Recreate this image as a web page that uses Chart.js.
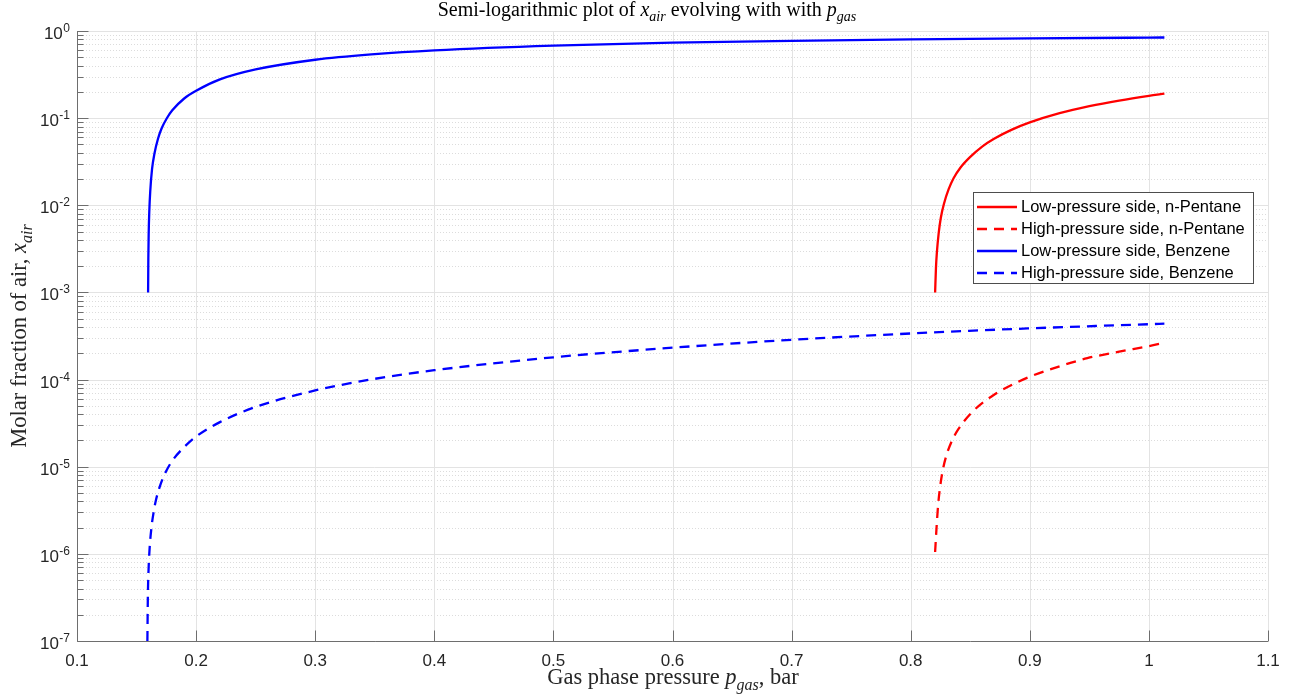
<!DOCTYPE html>
<html>
<head>
<meta charset="utf-8">
<script src="https://cdn.jsdelivr.net/npm/chart.js@4.4.1/dist/chart.umd.min.js"></script>
<style>
html, body { margin: 0; padding: 0; background: #fff; }
#wrap { width: 1296px; height: 698px; }
</style>
</head>
<body>
<div id="wrap"><canvas id="chart" width="1296" height="698"></canvas></div>
<script>
"use strict"

// Values (pressure in bar, molar fraction)
const benzeneLowP = [0.1597, 0.1599, 0.1602, 0.1607, 0.1615, 0.163, 0.165, 0.168, 0.171, 0.1753, 0.18, 0.19, 0.2, 0.22, 0.25, 0.3, 0.35, 0.4, 0.5, 0.6, 0.7, 0.8, 0.9, 1.0, 1.013];
const benzeneLowX = [0.001, 0.0025, 0.0048, 0.0085, 0.0145, 0.026, 0.039, 0.058, 0.076, 0.099, 0.123, 0.168, 0.206, 0.278, 0.362, 0.468, 0.543, 0.600, 0.680, 0.734, 0.772, 0.800, 0.822, 0.840, 0.842];

const benzeneHighP = [0.1591, 0.1595, 0.16, 0.1608, 0.1625, 0.1645, 0.1664, 0.17, 0.1748, 0.18, 0.19, 0.2, 0.22, 0.25, 0.3, 0.35, 0.4, 0.5, 0.6, 0.7, 0.8, 0.9, 1.0, 1.013];
const benzeneHighX = [1.0e-7, 3.3e-7, 6.1e-7, 1.06e-6, 2.0e-6, 3.1e-6, 4.2e-6, 6.2e-6, 8.85e-6, 1.17e-5, 1.68e-5, 2.22e-5, 3.25e-5, 4.85e-5, 7.5e-5, 1.02e-4, 1.28e-4, 1.8e-4, 2.32e-4, 2.86e-4, 3.38e-4, 3.87e-4, 4.32e-4, 4.38e-4];

const pentaneLowP = [0.8205, 0.8212, 0.822, 0.8235, 0.8253, 0.828, 0.8318, 0.836, 0.842, 0.85, 0.86, 0.87, 0.885, 0.9, 0.925, 0.95, 0.975, 1.0, 1.013];
const pentaneLowX = [0.001, 0.0019, 0.0029, 0.0048, 0.0072, 0.0105, 0.0152, 0.0204, 0.0273, 0.0359, 0.0472, 0.058, 0.0738, 0.0893, 0.114, 0.1372, 0.1593, 0.1805, 0.191];

const pentaneHighP = [0.8205, 0.8217, 0.823, 0.8245, 0.8267, 0.83, 0.834, 0.84, 0.8528, 0.87, 0.89, 0.9, 0.925, 0.9483, 0.975, 1.0, 1.013];
const pentaneHighX = [1.05e-6, 2.0e-6, 3.6e-6, 5.6e-6, 8.8e-6, 1.35e-5, 1.9e-5, 2.7e-5, 4.4e-5, 6.7e-5, 9.4e-5, 1.08e-4, 1.42e-4, 1.76e-4, 2.09e-4, 2.42e-4, 2.64e-4];

const seriesLabels = ["Low-pressure side, n-Pentane", "High-pressure side, n-Pentane", "Low-pressure side, Benzene", "High-pressure side, Benzene"];

// Axis ticks
const xTicks = [0.1, 0.2, 0.3, 0.4, 0.5, 0.6, 0.7, 0.8, 0.9, 1.0, 1.1];
const xTickLabels = ["0.1", "0.2", "0.3", "0.4", "0.5", "0.6", "0.7", "0.8", "0.9", "1", "1.1"];
const yTickExps = [-7, -6, -5, -4, -3, -2, -1, 0];
const yMinorSteps = [2, 3, 4, 5, 6, 7, 8, 9];

const axisColor = "#6e6e6e";
const textColor = "#262626";
const sansFont = "'Liberation Sans', Arial, sans-serif";
const serifFont = "'Liberation Serif', 'Times New Roman', serif";

function toPoints(px, py) {
    return px.map((p, i) => ({ x: p, y: py[i] }));
}

function makeSet(label, color, dashed, px, py) {
    return {
        label: label,
        data: toPoints(px, py),
        borderColor: color,
        borderWidth: 2.3,
        borderDash: dashed ? [10, 7] : [],
        pointRadius: 0,
        fill: false,
        cubicInterpolationMode: "monotone"
    };
}

// Text with italic parts and subscripts, like MATLAB's latex interpreter
function drawRich(ctx, parts, x, y, size) {
    const fontOf = s => s === "n" ? size + "px " + serifFont
        : s === "i" ? "italic " + size + "px " + serifFont
        : "italic " + Math.round(size * 0.7) + "px " + serifFont;
    let w = 0;
    parts.forEach(p => { ctx.font = fontOf(p[1]); w += ctx.measureText(p[0]).width; });
    let cx = x - w / 2;
    ctx.textAlign = "left";
    ctx.textBaseline = "alphabetic";
    parts.forEach(p => {
        ctx.font = fontOf(p[1]);
        ctx.fillText(p[0], cx, p[1] === "s" ? y + size * 0.25 : y);
        cx += ctx.measureText(p[0]).width;
    });
}

// Grid lines under the data
const gridPlugin = {
    id: "matlabGrid",
    beforeDatasetsDraw(chart) {
        const ctx = chart.ctx;
        const area = chart.chartArea;
        const xs = chart.scales.x;
        const ys = chart.scales.y;
        ctx.save();
        ctx.lineWidth = 1;

        // minor y grid, dotted
        ctx.strokeStyle = "#dcdcdc";
        ctx.setLineDash([1, 2]);
        yTickExps.forEach(e => {
            yMinorSteps.forEach(m => {
                const v = m * Math.pow(10, e);
                if (v >= 1) return;
                const y = Math.round(ys.getPixelForValue(v)) + 0.5;
                ctx.beginPath();
                ctx.moveTo(area.left, y);
                ctx.lineTo(area.right, y);
                ctx.stroke();
            });
        });

        // major grid, solid
        ctx.setLineDash([]);
        ctx.strokeStyle = "#e3e3e3";
        yTickExps.forEach(e => {
            const y = Math.round(ys.getPixelForValue(Math.pow(10, e))) + 0.5;
            ctx.beginPath();
            ctx.moveTo(area.left, y);
            ctx.lineTo(area.right, y);
            ctx.stroke();
        });
        xTicks.forEach(v => {
            const x = Math.round(xs.getPixelForValue(v)) + 0.5;
            ctx.beginPath();
            ctx.moveTo(x, area.top);
            ctx.lineTo(x, area.bottom);
            ctx.stroke();
        });
        ctx.restore();
    }
};

// Axes, inward ticks, y tick labels, titles and legend on top
const decorPlugin = {
    id: "matlabDecor",
    afterDatasetsDraw(chart) {
        const ctx = chart.ctx;
        const area = chart.chartArea;
        const xs = chart.scales.x;
        const ys = chart.scales.y;
        ctx.save();

        // axis lines
        ctx.strokeStyle = axisColor;
        ctx.lineWidth = 1;
        const left = Math.round(area.left) + 0.5;
        const bottom = Math.round(area.bottom) + 0.5;
        ctx.beginPath();
        ctx.moveTo(left, area.top);
        ctx.lineTo(left, bottom);
        ctx.lineTo(area.right, bottom);
        ctx.stroke();

        // x ticks
        xTicks.forEach(v => {
            const x = Math.round(xs.getPixelForValue(v)) + 0.5;
            ctx.beginPath();
            ctx.moveTo(x, bottom);
            ctx.lineTo(x, bottom - 11);
            ctx.stroke();
        });

        // y ticks, major and minor
        yTickExps.forEach(e => {
            const y = Math.round(ys.getPixelForValue(Math.pow(10, e))) + 0.5;
            ctx.beginPath();
            ctx.moveTo(left, y);
            ctx.lineTo(left + 11, y);
            ctx.stroke();
            yMinorSteps.forEach(m => {
                const v = m * Math.pow(10, e);
                if (v >= 1) return;
                const ym = Math.round(ys.getPixelForValue(v)) + 0.5;
                ctx.beginPath();
                ctx.moveTo(left, ym);
                ctx.lineTo(left + 6, ym);
                ctx.stroke();
            });
        });

        // y tick labels 10^n
        ctx.fillStyle = textColor;
        ctx.textBaseline = "alphabetic";
        yTickExps.forEach(e => {
            const y = ys.getPixelForValue(Math.pow(10, e));
            const expText = e === 0 ? "0" : "-" + Math.abs(e);
            ctx.font = "12px " + sansFont;
            const ew = ctx.measureText(expText).width;
            const right = area.left - 7;
            ctx.textAlign = "left";
            ctx.fillText(expText, right - ew, y + 1);
            ctx.font = "17px " + sansFont;
            ctx.textAlign = "right";
            ctx.fillText("10", right - ew - 0.5, y + 8);
        });

        // title and axis labels
        ctx.fillStyle = "#000";
        drawRich(ctx, [["Semi-logarithmic plot of ", "n"], ["x", "i"], ["air", "s"],
            [" evolving with with ", "n"], ["p", "i"], ["gas", "s"]], 647, 16, 20);
        ctx.fillStyle = textColor;
        drawRich(ctx, [["Gas phase pressure ", "n"], ["p", "i"], ["gas", "s"], [", bar", "n"]], 673, 684, 22.5);
        ctx.save();
        ctx.translate(26, (area.top + area.bottom) / 2);
        ctx.rotate(-Math.PI / 2);
        drawRich(ctx, [["Molar fraction of air, ", "n"], ["x", "i"], ["air", "s"]], 0, 0, 22.5);
        ctx.restore();

        // legend box
        const lx = 973.5, ly = 192.5, lw = 280, lh = 91;
        ctx.fillStyle = "#fff";
        ctx.fillRect(lx, ly, lw, lh);
        ctx.strokeStyle = "#4d4d4d";
        ctx.lineWidth = 1;
        ctx.strokeRect(lx, ly, lw, lh);
        chart.data.datasets.forEach((ds, i) => {
            const ry = 207 + i * 22;
            ctx.strokeStyle = ds.borderColor;
            ctx.lineWidth = 2.3;
            ctx.setLineDash(ds.borderDash);
            ctx.beginPath();
            ctx.moveTo(977, ry);
            ctx.lineTo(1017, ry);
            ctx.stroke();
            ctx.setLineDash([]);
            ctx.fillStyle = "#000";
            ctx.font = "16.5px " + sansFont;
            ctx.textAlign = "left";
            ctx.textBaseline = "middle";
            ctx.fillText(ds.label, 1021, ry + 0.5);
        });
        ctx.restore();
    }
};

const canvas = document.getElementById("chart");

new Chart(canvas, {
    type: "line",
    data: {
        datasets: [
            makeSet(seriesLabels[0], "#ff0000", false, pentaneLowP, pentaneLowX),
            makeSet(seriesLabels[1], "#ff0000", true, pentaneHighP, pentaneHighX),
            makeSet(seriesLabels[2], "#0000ff", false, benzeneLowP, benzeneLowX),
            makeSet(seriesLabels[3], "#0000ff", true, benzeneHighP, benzeneHighX)
        ]
    },
    options: {
        responsive: false,
        animation: false,
        devicePixelRatio: 1,
        layout: { padding: { left: 0, right: 28, top: 31, bottom: 0 } },
        plugins: {
            legend: { display: false },
            title: { display: false },
            tooltip: { enabled: false }
        },
        scales: {
            x: {
                type: "linear",
                min: 0.1,
                max: 1.1,
                afterBuildTicks: scale => { scale.ticks = xTicks.map(v => ({ value: v })); },
                afterFit: scale => { scale.height = 57; },
                grid: { display: false, drawTicks: false },
                border: { display: false },
                ticks: {
                    autoSkip: false,
                    maxRotation: 0,
                    padding: 10,
                    color: textColor,
                    font: { family: sansFont, size: 17 },
                    callback: (value, index) => xTickLabels[index]
                }
            },
            y: {
                type: "logarithmic",
                min: 1e-7,
                max: 1,
                afterFit: scale => { scale.width = 77; },
                grid: { display: false, drawTicks: false },
                border: { display: false },
                ticks: { display: false }
            }
        }
    },
    plugins: [gridPlugin, decorPlugin]
});
</script>
</body>
</html>
